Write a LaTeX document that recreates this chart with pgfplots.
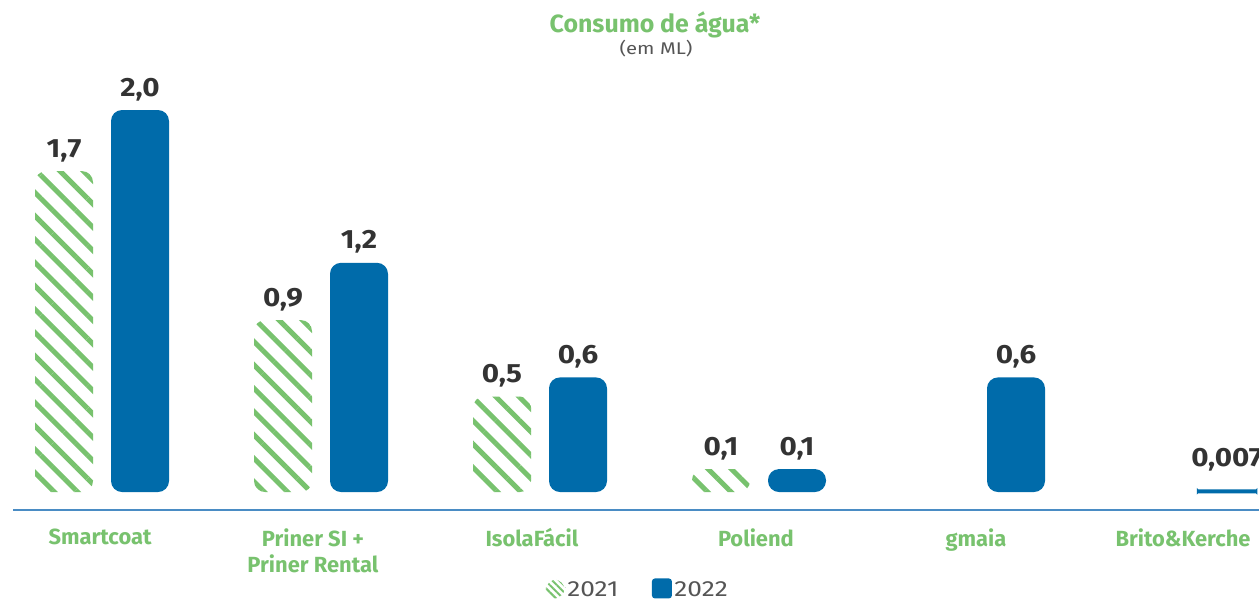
\documentclass[border=0pt]{standalone}
\usepackage{fontspec}
\setmainfont{Fira Sans}
\newfontfamily\widefont{Fira Sans}[FakeStretch=1.2]
\newfontfamily\valfont{Fira Sans}[FakeStretch=1.12]
\usepackage{pgfplots}
\usepackage{pgfplotstable}
\pgfplotsset{compat=1.18}
\usetikzlibrary{patterns.meta}

\definecolor{ecogreen}{HTML}{78C26E}
\definecolor{barblue}{HTML}{006BAA}
\definecolor{lineblue}{HTML}{4A8CC4}
\definecolor{valgray}{HTML}{333333}
\definecolor{leggray}{HTML}{555555}

% bars as line paths, so that rounded corners apply to them
\makeatletter
\def\pgfpathrectanglecorners#1#2{%
  \pgf@process{#1}\edef\rr@xa{\the\pgf@x}\edef\rr@ya{\the\pgf@y}%
  \pgf@process{#2}\edef\rr@xb{\the\pgf@x}\edef\rr@yb{\the\pgf@y}%
  \pgfpathmoveto{\pgfqpoint{\rr@xa}{\rr@ya}}%
  \pgfpathlineto{\pgfqpoint{\rr@xa}{\rr@yb}}%
  \pgfpathlineto{\pgfqpoint{\rr@xb}{\rr@yb}}%
  \pgfpathlineto{\pgfqpoint{\rr@xb}{\rr@ya}}%
  \pgfpathclose}
\makeatother

% 2021
\pgfplotstableread{
x y label
0 1.68 {1,7}
1 0.90 {0,9}
2 0.50 {0,5}
3 0.12 {0,1}
}\dataA
% 2022
\pgfplotstableread{
x y label
0 2.00 {2,0}
1 1.20 {1,2}
2 0.60 {0,6}
3 0.12 {0,1}
4 0.60 {0,6}
}\dataB
\pgfplotstableread{
x y label
5 0.007 {0,007}
}\dataC

\begin{document}
\begin{tikzpicture}
\begin{axis}[
    at={(0,0)}, anchor=north west,
    scale only axis,
    width=1259bp, height=510bp,
    xmin=-0.4658, xmax=5.2831,
    ymin=-0.0942, ymax=2.576,
    enlargelimits=false,
    ybar,
    bar width=0.2648,
    axis y line=none,
    axis x line*=bottom,
    x axis line style={draw=lineblue, line width=2.5bp, -, shorten <=13bp},
    xtick={-0.009,0.963,1.963,2.986,3.991,4.936},
    xticklabels={Smartcoat,{Priner SI +\\Priner Rental},IsolaFácil,Poliend,gmaia,Brito\&Kerche},
    major tick length=0pt,
    xticklabel style={font=\bfseries\fontsize{22}{26}\selectfont, text=ecogreen, align=center, anchor=north, yshift=-15bp},
    point meta=explicit symbolic,
    nodes near coords,
    every node near coord/.append style={font=\valfont\bfseries\fontsize{26.5}{30}\selectfont, text=valgray, anchor=base, yshift=14bp},
    legend columns=2,
    legend style={at={(0.5068,-0.155)}, anchor=center, draw=none, fill=none, inner sep=0pt,
        font=\widefont\fontsize{22}{24}\selectfont, text=leggray, nodes={inner xsep=2.5bp},
        /tikz/every even column/.append style={column sep=31bp}},
]
\addplot[draw=none, bar shift=-0.1735, rounded corners=11bp,
    pattern={Lines[angle=-45, distance=16.5bp, line width=5bp]}, pattern color=ecogreen,
    legend image code/.code={\fill[pattern={Lines[angle=-45, distance=5bp, line width=2bp]}, pattern color=ecogreen] (0bp,-9bp) rectangle (19bp,10bp);}]
    table[x=x, y=y, meta=label] {\dataA};
\addlegendentry{2021}
\addplot[draw=none, fill=barblue, bar shift=0.1735, rounded corners=11bp,
    legend image code/.code={\fill[barblue, rounded corners=3bp] (0bp,-9bp) rectangle (20bp,11bp);}]
    table[x=x, y=y, meta=label] {\dataB};
\addlegendentry{2022}
\addplot[draw=barblue, line width=2.5bp, fill=barblue, bar shift=0.137, rounded corners=1bp,
    every node near coord/.append style={yshift=10bp}, forget plot]
    table[x=x, y=y, meta=label] {\dataC};

\node[font=\bfseries\fontsize{25}{30}\selectfont, text=ecogreen, anchor=base]
    at (rel axis cs:0.5203,0.9353) {Consumo de água*};
\node[font=\widefont\fontsize{17}{22}\selectfont, text=leggray, anchor=base]
    at (rel axis cs:0.5211,0.8922) {(em ML)};
\end{axis}
\pgfresetboundingbox
\path[use as bounding box] (0,0) rectangle (1259bp,-601bp);
\end{tikzpicture}
\end{document}
